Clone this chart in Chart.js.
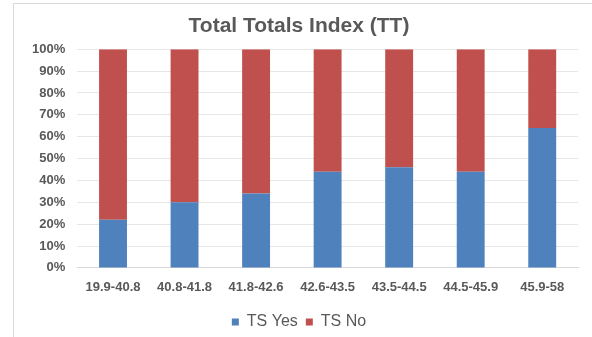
<!DOCTYPE html>
<html>
<head>
<meta charset="utf-8">
<script src="https://cdn.jsdelivr.net/npm/chart.js@4/dist/chart.umd.min.js"></script>
<style>
  html, body { margin: 0; padding: 0; background: #fff; }
  #frame {
    position: absolute; left: 13px; top: 3px; width: 579px; height: 334px;
    border-top: 1px solid #d9d9d9; border-left: 1px solid #d9d9d9;
    box-sizing: border-box;
  }
  #wrap { position: absolute; left: 0; top: 0; width: 592px; height: 337px; }
</style>
</head>
<body>
<div id="frame"></div>
<div id="wrap"><canvas id="chart" width="592" height="337"></canvas></div>
<script>
const ttRanges = ['19.9-40.8', '40.8-41.8', '41.8-42.6', '42.6-43.5', '43.5-44.5', '44.5-45.9', '45.9-58'];
const tsYes = [22, 30, 34, 44, 46, 44, 64];
const tsNo = tsYes.map(v => 100 - v);
const pctTicks = [0, 10, 20, 30, 40, 50, 60, 70, 80, 90, 100];

const gray = '#595959';
const font = 'Liberation Sans, Arial';

new Chart(document.getElementById('chart'), {
  type: 'bar',
  data: {
    labels: ttRanges,
    datasets: [
      { label: 'TS Yes', data: tsYes, backgroundColor: '#4f81bd', barPercentage: 0.78, categoryPercentage: 0.5 },
      { label: 'TS No', data: tsNo, backgroundColor: '#c0504d', barPercentage: 0.78, categoryPercentage: 0.5 }
    ]
  },
  options: {
    responsive: false,
    animation: false,
    // legend sits low, so the bottom padding is pulled in
    layout: { padding: { left: 20, right: 14, top: 2, bottom: -3 } },
    plugins: {
      title: {
        display: true,
        text: 'Total Totals Index (TT)',
        color: gray,
        font: { family: font, size: 21, weight: 'bold' },
        padding: { top: 12, bottom: 10 }
      },
      legend: {
        position: 'bottom',
        labels: {
          color: gray,
          boxWidth: 7, boxHeight: 7,
          padding: 8,
          font: { family: font, size: 16 }
        }
      },
      tooltip: { enabled: false }
    },
    scales: {
      x: {
        stacked: true,
        grid: { display: false, drawTicks: false },
        border: { display: true, color: '#d9d9d9' },
        ticks: { color: gray, font: { family: font, size: 13, weight: 'bold', lineHeight: 1.7 }, padding: 8 }
      },
      y: {
        stacked: true,
        min: 0, max: 100,
        afterBuildTicks: axis => { axis.ticks = pctTicks.map(v => ({ value: v })); },
        grid: { color: '#e6e6e6', drawTicks: false },
        border: { display: false },
        ticks: {
          color: gray,
          padding: 12,
          font: { family: font, size: 13, weight: 'bold' },
          callback: v => v + '%'
        }
      }
    }
  }
});
</script>
</body>
</html>
